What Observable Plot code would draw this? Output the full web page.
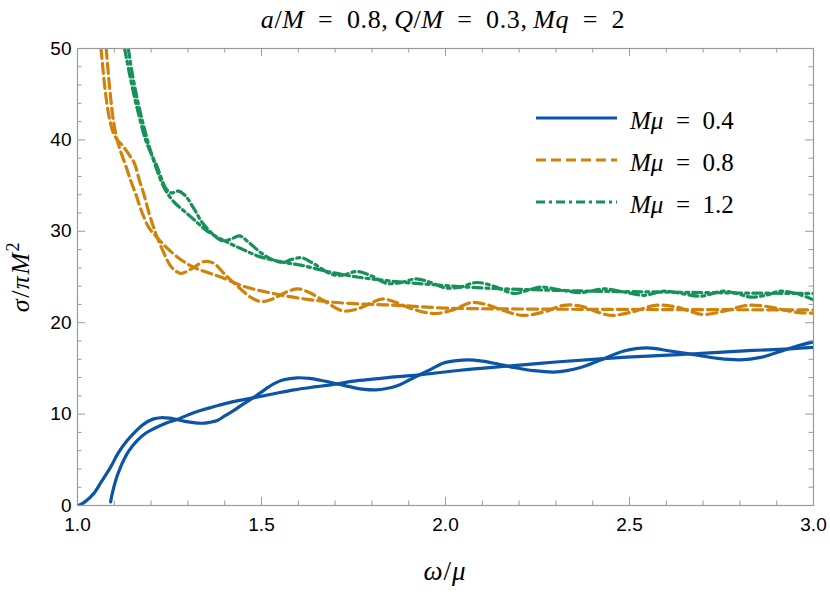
<!DOCTYPE html>
<html><head><meta charset="utf-8">
<script src="https://cdn.jsdelivr.net/npm/d3@7"></script>
<script src="https://cdn.jsdelivr.net/npm/@observablehq/plot@0.6"></script>
<style>body{margin:0;background:#fff}#chart{width:830px;height:594px}</style>
</head><body><div id="chart"></div>
<script>
// ---- data ----
const xMajorTicks = [1.0, 1.5, 2.0, 2.5, 3.0];
const xMinorTicks = [1.1,1.2,1.3,1.4,1.6,1.7,1.8,1.9,2.1,2.2,2.3,2.4,2.6,2.7,2.8,2.9];
const yMajorTicks = [0, 10, 20, 30, 40, 50];
const yMinorTicks = [2,4,6,8,12,14,16,18,22,24,26,28,32,34,36,38,42,44,46,48];
const muLabels = ["0.4", "0.8", "1.2"];
const colors = ["#0c55a6", "#d0820a", "#17905a"];
const dashes = ["none", "10,5", "9,4,3,4"];

// Mμ = 0.4 : oscillating (exact) and smooth curves
const mu04Osc = [[1.003,0],[1.02,0.4],[1.044,1.3],[1.065,2.6],[1.09,4.2],[1.11,5.7],[1.135,7.1],[1.16,8.2],[1.18,8.9],[1.205,9.45],[1.226,9.6],[1.25,9.55],[1.27,9.4],[1.30,9.15],[1.334,9.0],[1.36,9.1],[1.38,9.3],[1.40,9.8],[1.425,10.4],[1.45,11.1],[1.48,11.85],[1.51,12.7],[1.533,13.3],[1.56,13.75],[1.597,13.97],[1.63,13.9],[1.66,13.7],[1.706,13.3],[1.75,12.9],[1.78,12.7],[1.81,12.65],[1.84,12.8],[1.869,13.1],[1.90,13.7],[1.93,14.3],[1.96,14.9],[1.995,15.6],[2.03,15.85],[2.06,15.94],[2.10,15.8],[2.14,15.5],[2.186,15.1],[2.24,14.75],[2.294,14.6],[2.33,14.75],[2.367,15.1],[2.42,15.9],[2.485,16.9],[2.548,17.25],[2.61,16.9],[2.675,16.5],[2.74,16.1],[2.80,15.94],[2.856,16.2],[2.92,17.0],[2.96,17.5],[3.0,17.9]];
const mu04Smooth = [[1.09,0.4],[1.095,1.4],[1.105,2.9],[1.115,4.0],[1.126,5.0],[1.14,6.0],[1.162,7.1],[1.185,7.9],[1.207,8.4],[1.24,9.0],[1.27,9.4],[1.30,9.9],[1.334,10.4],[1.37,10.8],[1.407,11.2],[1.44,11.5],[1.48,11.8],[1.53,12.2],[1.588,12.65],[1.65,13.0],[1.706,13.3],[1.75,13.6],[1.81,13.85],[1.87,14.1],[1.93,14.3],[2.04,14.8],[2.186,15.3],[2.30,15.7],[2.42,16.05],[2.55,16.35],[2.675,16.6],[2.80,16.9],[2.92,17.1],[3.0,17.3]];

// Mμ = 0.8
const mu08Osc = [[1.064,50],[1.075,45.5],[1.086,42.5],[1.097,40.8],[1.108,40.0],[1.12,39.5],[1.14,38.4],[1.155,37.4],[1.168,35.6],[1.18,34.1],[1.195,31.9],[1.207,30.4],[1.217,29.3],[1.235,27.6],[1.255,26.1],[1.28,25.4],[1.31,25.9],[1.345,26.7],[1.37,26.5],[1.40,25.3],[1.44,23.8],[1.47,22.8],[1.50,22.3],[1.53,22.6],[1.57,23.4],[1.60,23.7],[1.63,23.3],[1.67,22.4],[1.72,21.3],[1.76,21.5],[1.80,22.2],[1.83,22.6],[1.86,22.3],[1.91,21.5],[1.97,21.0],[2.02,21.4],[2.07,22.2],[2.11,22.0],[2.16,21.3],[2.21,20.8],[2.27,21.2],[2.32,21.9],[2.37,21.8],[2.41,21.2],[2.45,20.8],[2.51,21.2],[2.57,21.9],[2.63,21.7],[2.66,21.3],[2.70,20.9],[2.76,21.3],[2.82,21.9],[2.87,21.8],[2.92,21.4],[2.96,21.1],[3.0,21.05]];
const mu08Smooth = [[1.078,50],[1.089,45],[1.098,42],[1.106,40.3],[1.115,39],[1.13,37.3],[1.145,35.5],[1.158,34.1],[1.175,32.1],[1.194,30.4],[1.217,29.3],[1.24,28.3],[1.271,27.2],[1.30,26.4],[1.325,25.9],[1.36,25.4],[1.389,25.0],[1.45,24.0],[1.52,23.3],[1.60,22.7],[1.69,22.25],[1.80,22.0],[1.87,21.9],[2.0,21.6],[2.2,21.5],[2.5,21.45],[3.0,21.4]];

// Mμ = 1.2
const mu12Osc = [[1.128,50],[1.14,47.5],[1.153,45],[1.168,42.5],[1.185,40],[1.2,38.5],[1.215,37.2],[1.228,35.8],[1.24,34.7],[1.255,34.2],[1.275,34.4],[1.295,33.8],[1.316,32.5],[1.34,30.9],[1.37,29.6],[1.39,29.0],[1.415,29.1],[1.44,29.5],[1.465,28.8],[1.50,27.6],[1.53,26.9],[1.56,26.6],[1.58,26.9],[1.61,27.1],[1.64,26.5],[1.69,25.3],[1.72,25.2],[1.76,25.6],[1.80,25.1],[1.84,24.3],[1.88,24.4],[1.92,24.8],[1.96,24.4],[2.00,23.8],[2.04,23.9],[2.085,24.4],[2.13,24.0],[2.186,23.2],[2.22,23.5],[2.258,23.9],[2.31,23.6],[2.367,23.3],[2.43,23.7],[2.48,23.4],[2.539,23.0],[2.593,23.45],[2.64,23.2],[2.693,22.9],[2.756,23.45],[2.80,23.1],[2.829,22.8],[2.87,23.0],[2.91,23.45],[2.96,23.1],[3.0,22.5]];
const mu12Smooth = [[1.138,50],[1.15,47],[1.165,44],[1.18,41.5],[1.197,39],[1.215,36.8],[1.235,34.8],[1.26,33.3],[1.29,32.2],[1.316,31.3],[1.35,30.1],[1.407,28.8],[1.45,28.0],[1.497,27.2],[1.56,26.6],[1.606,26.3],[1.69,25.5],[1.76,25.0],[1.84,24.6],[1.92,24.3],[2.00,24.05],[2.1,23.8],[2.2,23.65],[2.4,23.45],[2.6,23.35],[2.8,23.25],[3.0,23.2]];

// ---- build table ----
const curves = [
  {mu: 0, kind: "osc", pts: mu04Osc}, {mu: 0, kind: "smooth", pts: mu04Smooth},
  {mu: 1, kind: "osc", pts: mu08Osc}, {mu: 1, kind: "smooth", pts: mu08Smooth},
  {mu: 2, kind: "osc", pts: mu12Osc}, {mu: 2, kind: "smooth", pts: mu12Smooth}
];
const rows = curves.flatMap((c, i) => c.pts.map(([x, y]) => ({x, y, id: i, mu: c.mu})));

const W = 830, H = 594, ML = 77, MR = 17, MT = 48, MB = 89;
const PW = W - ML - MR, PH = H - MT - MB;
const grey = "#9a9a9a";

const lineMarks = [0, 1, 2].map(m => Plot.line(rows.filter(r => r.mu === m), {
  x: "x", y: "y", z: "id", stroke: colors[m], strokeWidth: 3.2,
  strokeDasharray: dashes[m] === "none" ? null : dashes[m],
  curve: "catmull-rom", clip: true
}));

const svg = Plot.plot({
  width: W, height: H,
  marginLeft: ML, marginRight: MR, marginTop: MT, marginBottom: MB,
  style: {fontFamily: "'Liberation Sans', Arial, sans-serif", fontSize: "19px", color: "#000", background: "#fff"},
  x: {domain: [1, 3]},
  y: {domain: [0, 50]},
  marks: [
    ...lineMarks,
    Plot.frame({stroke: grey, strokeWidth: 1.2}),
    Plot.tickY(yMajorTicks, {y: d => d, insetRight: PW - 8, stroke: grey}),
    Plot.tickY(yMinorTicks, {y: d => d, insetRight: PW - 4.5, stroke: grey}),
    Plot.tickY(yMajorTicks, {y: d => d, insetLeft: PW - 8, stroke: grey}),
    Plot.tickY(yMinorTicks, {y: d => d, insetLeft: PW - 4.5, stroke: grey}),
    Plot.tickX(xMajorTicks, {x: d => d, insetTop: PH - 8, stroke: grey}),
    Plot.tickX(xMinorTicks, {x: d => d, insetTop: PH - 4.5, stroke: grey}),
    Plot.tickX(xMajorTicks, {x: d => d, insetBottom: PH - 8, stroke: grey}),
    Plot.tickX(xMinorTicks, {x: d => d, insetBottom: PH - 4.5, stroke: grey}),
    Plot.axisX({ticks: xMajorTicks, tickSize: 0, tickPadding: 12, tickFormat: d3.format(".1f"), label: null, fill: "#000", fontSize: 19}),
    Plot.axisY({ticks: yMajorTicks, tickSize: 0, tickPadding: 6, label: null, fill: "#000", fontSize: 19})
  ]
});
document.getElementById("chart").appendChild(svg);

// ---- math-styled texts (title, axis labels, legend) ----
const s = d3.select(svg);
const serif = "'Liberation Serif', 'DejaVu Serif', serif";
const EQ = "\u2002=\u2002";
function mathText(parent, x, y, parts, size, anchor, rotate, spacing) {
  const t = parent.append("text").attr("x", x).attr("y", y)
    .attr("text-anchor", anchor || "start").attr("font-family", serif)
    .attr("font-size", size).attr("fill", "#000");
  if (spacing) t.attr("letter-spacing", spacing);
  if (rotate) t.attr("transform", `rotate(${rotate},${x},${y})`);
  parts.forEach(p => {
    const ts = t.append("tspan").text(p.t);
    if (p.i) ts.attr("font-style", "italic");
    if (p.sup) ts.attr("baseline-shift", "super").attr("font-size", size * 0.7);
  });
  return t;
}
// title
mathText(s, ML + PW / 2 - 2, 28, [
  {t: "a", i: 1}, {t: "/"}, {t: "M", i: 1}, {t: EQ + "0.8,\u2009"},
  {t: "Q", i: 1}, {t: "/"}, {t: "M", i: 1}, {t: EQ + "0.3,\u2009"},
  {t: "Mq", i: 1}, {t: EQ + "2"}
], 26, "middle", 0, 0.6);
// x label
mathText(s, ML + PW / 2, 580, [{t: "ω", i: 1}, {t: "/"}, {t: "μ", i: 1}], 27, "middle", 0, 1);
// y label
mathText(s, 29, MT + PH / 2, [{t: "σ", i: 1}, {t: "/"}, {t: "π", i: 1}, {t: "M", i: 1}, {t: "2", sup: 1}], 26, "middle", -90, 1.5);

// legend
const legY = [118, 160, 202];
muLabels.forEach((lab, m) => {
  s.append("line").attr("x1", 536).attr("x2", 617).attr("y1", legY[m]).attr("y2", legY[m])
    .attr("stroke", colors[m]).attr("stroke-width", 3.2)
    .attr("stroke-dasharray", dashes[m] === "none" ? null : dashes[m]);
  mathText(s, 630, legY[m] + 11, [{t: "Mμ", i: 1}, {t: EQ + lab}], 25, "start");
});
</script></body></html>
